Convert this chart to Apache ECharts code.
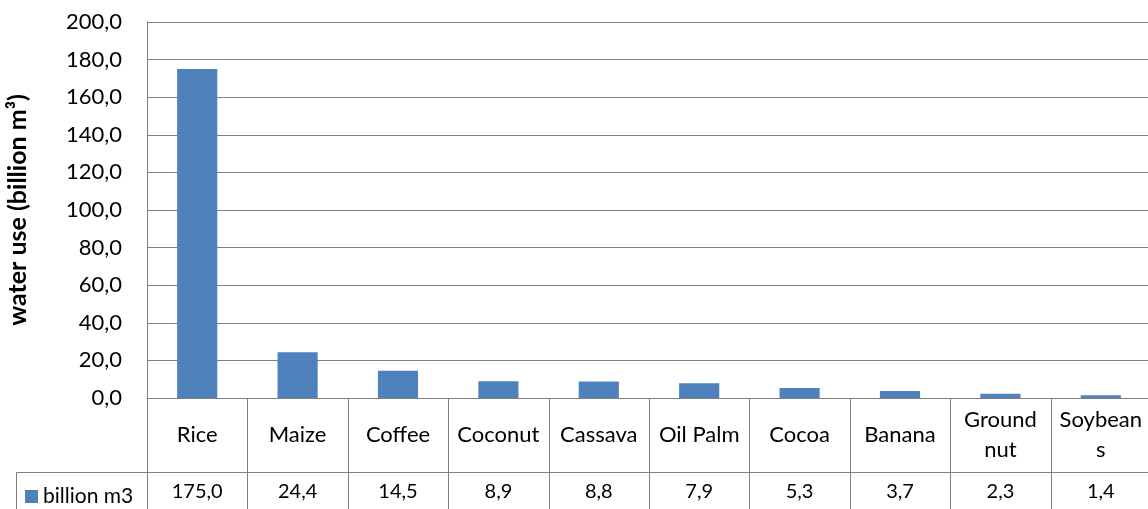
<!DOCTYPE html>
<html>
<head>
<meta charset="utf-8">
<script src="https://cdn.jsdelivr.net/npm/echarts@6/dist/echarts.min.js"></script>
<style>
  html, body { margin: 0; padding: 0; background: #fff; }
  #main { width: 1148px; height: 509px; }
</style>
</head>
<body>
<div id="main"></div>
<script>
// data
var categories = ['Rice', 'Maize', 'Coffee', 'Coconut', 'Cassava', 'Oil Palm', 'Cocoa', 'Banana', 'Ground\nnut', 'Soybean\ns'];
var waterUse = [175.0, 24.4, 14.5, 8.9, 8.8, 7.9, 5.3, 3.7, 2.3, 1.4];
var seriesName = 'billion m3';
var yTicks = { min: 0, max: 200, step: 20 };

var FONT = 'Lato';
var LINE = '#7f7f7f';

function fmt(v) {
    return v.toFixed(1).replace('.', ',');
}

var myChart = echarts.init(document.getElementById('main'));

var option = {
    animation: false,
    textStyle: { fontFamily: FONT, color: '#000' },
    grid: [
        { left: 147, right: -3, top: 22, height: 376, outerBoundsMode: 'none' },
        { left: 147, right: -3, top: 398, height: 111, outerBoundsMode: 'none' }
    ],
    legend: {
        data: [seriesName],
        left: 20,
        top: 481,
        icon: 'rect',
        itemWidth: 13,
        itemHeight: 13,
        itemStyle: { borderWidth: 0 },
        textStyle: { fontFamily: FONT, fontSize: 21, color: '#000' }
    },
    xAxis: [
        {
            type: 'category',
            gridIndex: 0,
            data: categories,
            axisTick: { show: false },
            axisLabel: { show: false },
            axisLine: { lineStyle: { color: LINE } }
        },
        {
            type: 'category',
            gridIndex: 1,
            data: categories,
            show: false
        }
    ],
    yAxis: [
        {
            type: 'value',
            gridIndex: 0,
            min: yTicks.min,
            max: yTicks.max,
            interval: yTicks.step,
            name: 'water use (billion m³)',
            nameLocation: 'middle',
            nameRotate: 90,
            nameGap: 117,
            nameTextStyle: { fontFamily: FONT, fontSize: 25, fontWeight: 'bold', color: '#000' },
            axisLine: { show: true, lineStyle: { color: LINE } },
            axisTick: { show: false },
            axisLabel: {
                fontSize: 22,
                color: '#000',
                margin: 25,
                formatter: fmt
            },
            splitLine: { lineStyle: { color: LINE } }
        },
        {
            type: 'value',
            gridIndex: 1,
            min: 0,
            max: 3,
            show: false
        }
    ],
    graphic: [
        {
            type: 'polyline',
            shape: { points: [[16.5, 509], [16.5, 472.5], [147, 472.5]] },
            style: { stroke: LINE, fill: null, lineWidth: 1 },
            silent: true
        }
    ],
    series: [
        {
            name: seriesName,
            type: 'bar',
            xAxisIndex: 0,
            yAxisIndex: 0,
            data: waterUse,
            barWidth: '40%',
            itemStyle: { color: '#4F81BD' }
        },
        {
            // data table under the chart
            type: 'custom',
            xAxisIndex: 1,
            yAxisIndex: 1,
            clip: false,
            silent: true,
            data: waterUse.map(function (v, i) { return [i, v]; }),
            renderItem: function (params, api) {
                var i = api.value(0);
                var v = api.value(1);
                var w = api.size([1, 0])[0];
                var cx = api.coord([i, 0])[0];
                var top = api.coord([i, 3])[1];
                var mid = Math.round(api.coord([i, 1])[1]) + 0.5;
                var bottom = api.coord([i, 0])[1];
                var x0 = Math.round(cx - w / 2) + 0.5;
                var x1 = Math.round(cx + w / 2) + 0.5;
                var ls = { stroke: LINE, lineWidth: 1 };
                var children = [
                    { type: 'line', shape: { x1: x0, y1: top, x2: x0, y2: bottom }, style: ls },
                    { type: 'line', shape: { x1: x1, y1: top, x2: x1, y2: bottom }, style: ls },
                    { type: 'line', shape: { x1: x0, y1: mid, x2: x1, y2: mid }, style: ls },
                    {
                        type: 'text',
                        x: cx, y: (top + mid) / 2,
                        style: {
                            text: categories[i],
                            fill: '#000',
                            font: '22px ' + FONT,
                            align: 'center',
                            verticalAlign: 'middle',
                            lineHeight: 30
                        }
                    },
                    {
                        type: 'text',
                        x: cx, y: (mid + bottom) / 2 + 1,
                        style: {
                            text: fmt(v),
                            fill: '#000',
                            font: '20px ' + FONT,
                            align: 'center',
                            verticalAlign: 'middle'
                        }
                    }
                ];
                return { type: 'group', children: children };
            }
        }
    ]
};

myChart.setOption(option);
</script>
</body>
</html>
